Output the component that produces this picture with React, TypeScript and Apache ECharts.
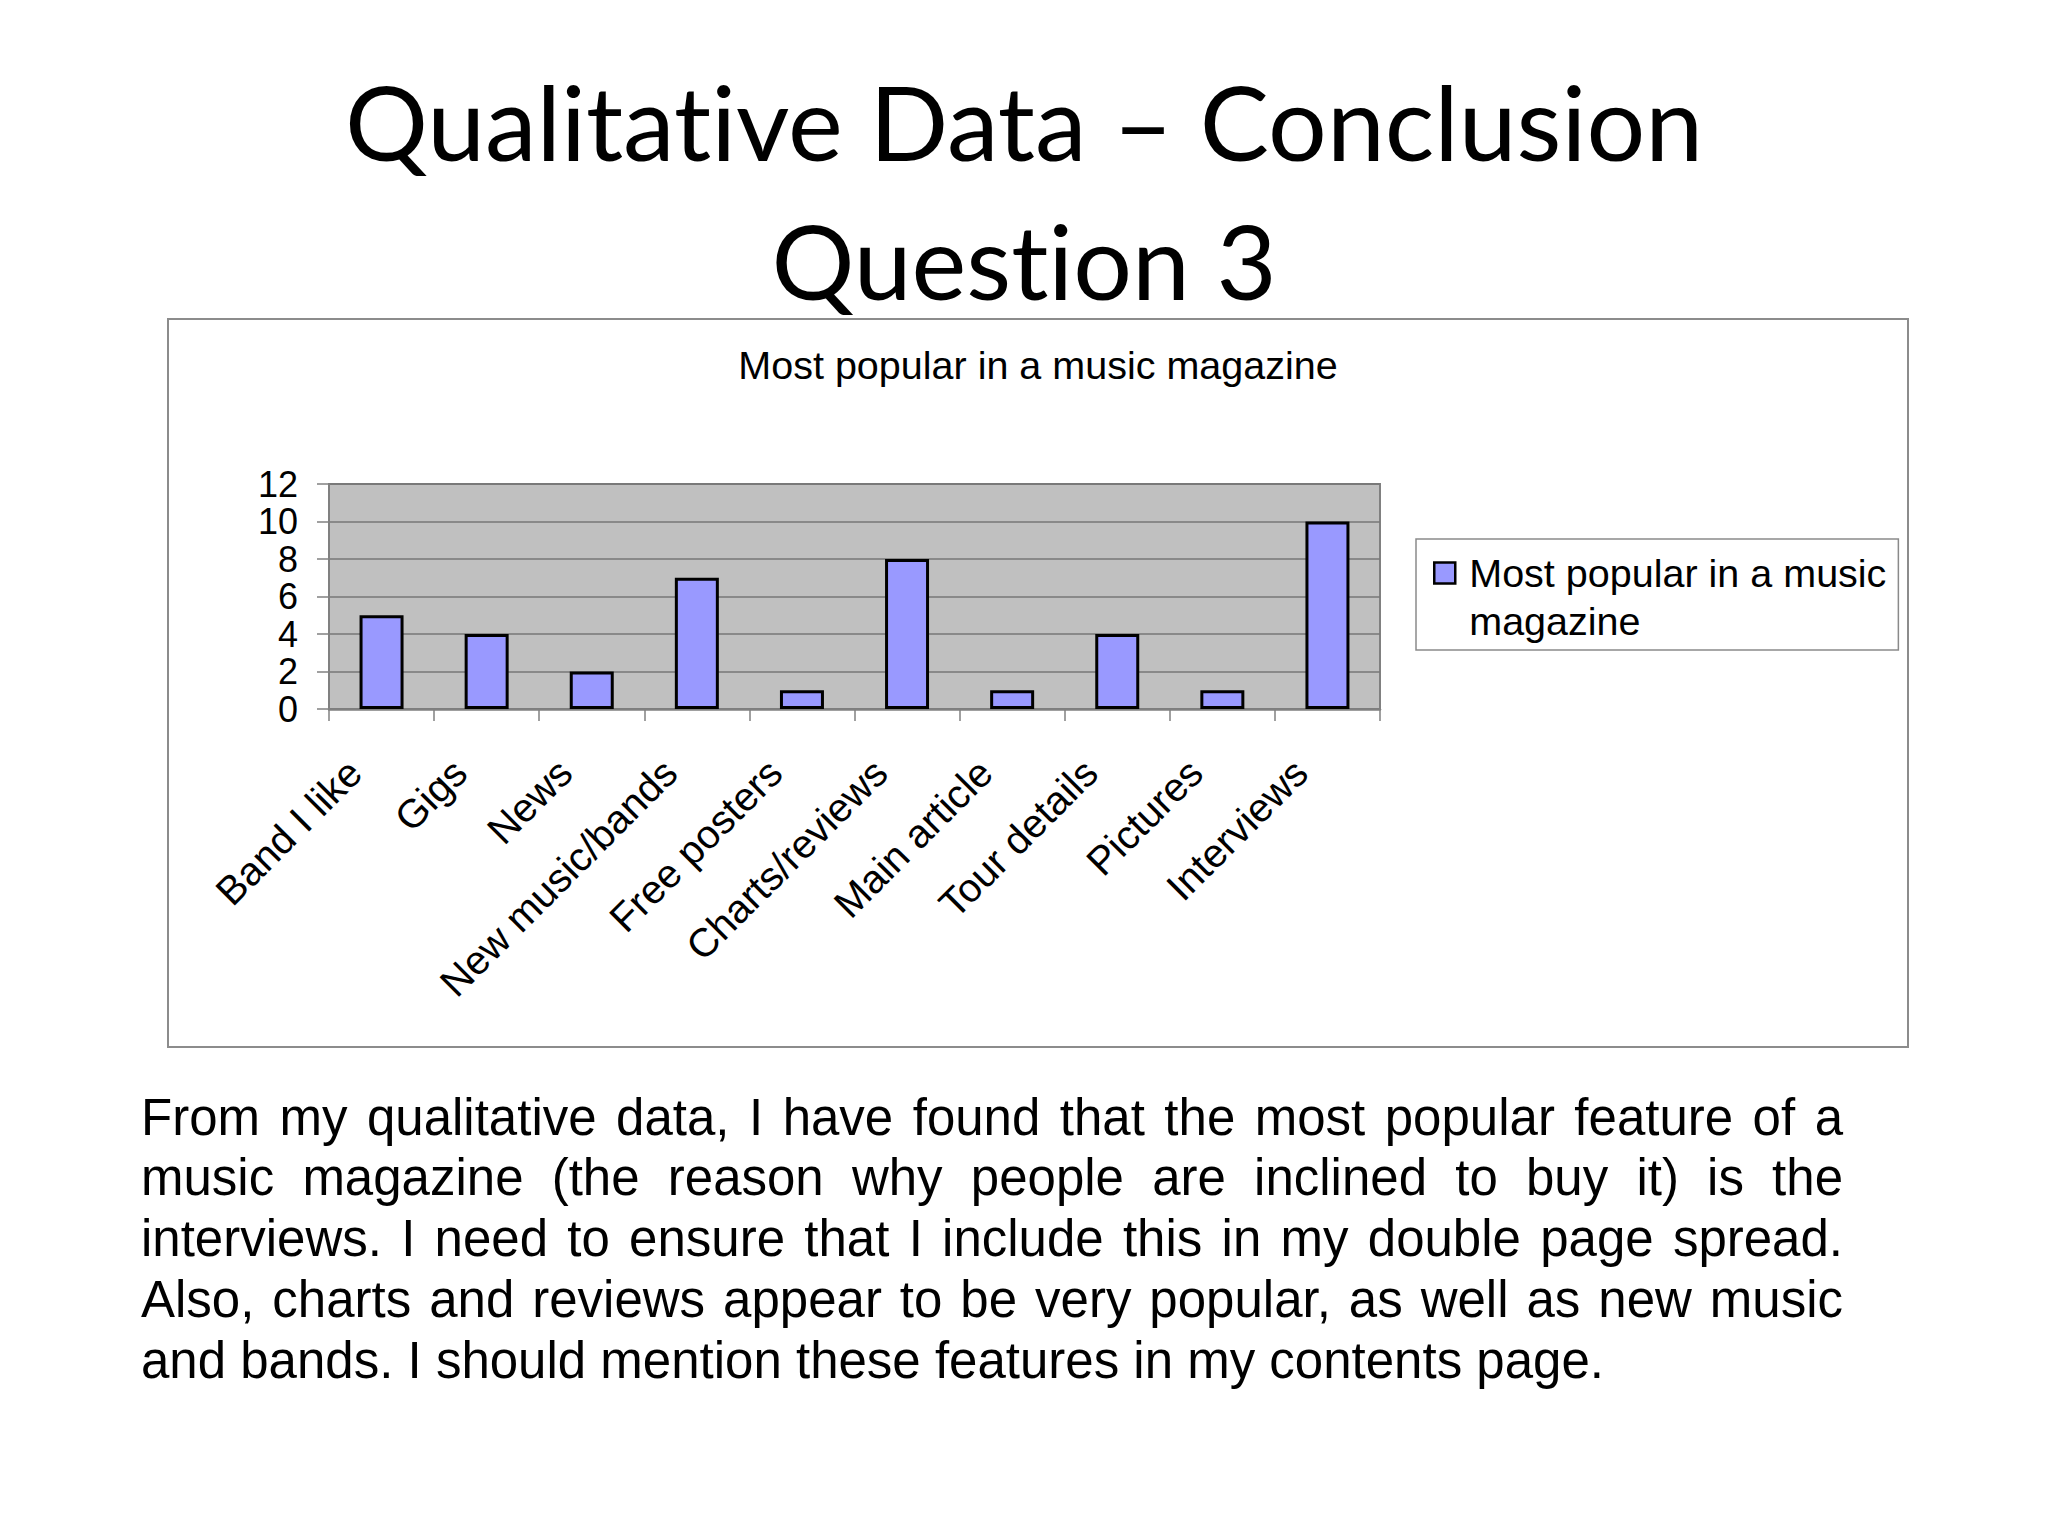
import React, { useEffect, useRef } from "react";
import * as echarts from "echarts";

const headlineLines = ["Qualitative Data – Conclusion", "Question 3"];
const chartTitle = "Most popular in a music magazine";
const seriesName = "Most popular in a music magazine";
const legendLabel = "Most popular in a music\nmagazine";
const categories = [
  "Band I like",
  "Gigs",
  "News",
  "New music/bands",
  "Free posters",
  "Charts/reviews",
  "Main article",
  "Tour details",
  "Pictures",
  "Interviews",
];
const values = [5, 4, 2, 7, 1, 8, 1, 4, 1, 10];
const yMin = 0;
const yMax = 12;
const yStep = 2;
const bodyLines = [
  "From my qualitative data, I have found that the most popular feature of a",
  "music magazine (the reason why people are inclined to buy it) is the",
  "interviews. I need to ensure that I include this in my double page spread.",
  "Also, charts and reviews appear to be very popular, as well as new music",
  "and bands. I should mention these features in my contents page.",
];

const SANS = '"Liberation Sans", Arial, sans-serif';
const HEAD = 'Lato, "Open Sans", sans-serif';

function measure(text: string, font: string): number {
  const c = document.createElement("canvas").getContext("2d")!;
  c.font = font;
  return c.measureText(text).width;
}

function buildBody(): any[] {
  const fs = 51;
  const font = `${fs}px ${SANS}`;
  const left = 141;
  const right = 1843;
  const width = right - left;
  const firstBaseline = 1135;
  const lineGap = 60.8;
  const out: any[] = [];
  bodyLines.forEach((line, i) => {
    const words = line.split(" ");
    const ws = words.map((w) => measure(w, font));
    const total = ws.reduce((a, b) => a + b, 0);
    const last = i === bodyLines.length - 1;
    const gap = last ? measure(" ", font) : (width - total) / (words.length - 1);
    let x = left;
    const y = firstBaseline + i * lineGap - 0.35 * fs;
    words.forEach((w, k) => {
      out.push({
        type: "text",
        x,
        y,
        style: {
          text: w,
          fill: "#000",
          fontSize: fs,
          fontFamily: SANS,
          align: "left",
          verticalAlign: "middle",
        },
      });
      x += ws[k] + gap;
    });
  });
  return out;
}

function buildHeadline(): any[] {
  const targetW = 1360;
  const w100 = measure(headlineLines[0], `100px ${HEAD}`);
  const fs = Math.min(106, (100 * targetW) / w100);
  const baselines = [158, 297];
  return headlineLines.map((t, i) => ({
    type: "text",
    x: 1024,
    y: baselines[i] - 0.36 * fs,
    style: {
      text: t,
      fill: "#000",
      fontSize: fs,
      fontFamily: HEAD,
      align: "center",
      verticalAlign: "middle",
    },
  }));
}

export default function App() {
  const ref = useRef<HTMLDivElement>(null);
  useEffect(() => {
    if (!ref.current) return;
    const chart = echarts.init(ref.current, undefined, { renderer: "svg" });
    const option: any = {
      animation: false,
      backgroundColor: "#ffffff",
      title: {
        text: chartTitle,
        left: 1038,
        top: 345,
        textAlign: "center",
        padding: 0,
        textStyle: {
          fontFamily: SANS,
          fontSize: 39.5,
          fontWeight: "normal",
          color: "#000",
        },
      },
      legend: {
        show: true,
        left: 1416,
        top: 539,
        orient: "vertical",
        padding: [10, 12, 5, 17],
        borderColor: "#8a8a8a",
        borderWidth: 1.5,
        backgroundColor: "#ffffff",
        itemWidth: 30,
        itemHeight: 69,
        icon: "path://M0,0H21V21H0Z M30,69",
        itemStyle: { color: "#9999ff", borderColor: "#000", borderWidth: 2.5 },
        formatter: () => legendLabel,
        textStyle: {
          fontFamily: SANS,
          fontSize: 39.5,
          lineHeight: 48,
          color: "#000",
        },
        data: [seriesName],
      },
      grid: {
        left: 329,
        top: 484,
        width: 1051,
        height: 225,
        show: true,
        backgroundColor: "#c0c0c0",
        borderColor: "#808080",
        borderWidth: 2,
        containLabel: false,
        outerBoundsMode: "none",
      },
      xAxis: {
        type: "category",
        data: categories,
        boundaryGap: true,
        axisLine: { show: true, lineStyle: { color: "#808080", width: 2.5 } },
        axisTick: {
          show: true,
          alignWithLabel: false,
          length: 12,
          lineStyle: { color: "#808080", width: 1.5 },
        },
        axisLabel: {
          show: true,
          interval: 0,
          rotate: 45,
          margin: 30,
          padding: [0, 38, 0, 0],
          fontFamily: SANS,
          fontSize: 40,
          color: "#000",
        },
        splitLine: { show: false },
      },
      yAxis: {
        type: "value",
        min: yMin,
        max: yMax,
        interval: yStep,
        axisLine: { show: true, lineStyle: { color: "#808080", width: 2 } },
        axisTick: {
          show: true,
          length: 12,
          lineStyle: { color: "#808080", width: 1.5 },
        },
        axisLabel: {
          margin: 31,
          fontFamily: SANS,
          fontSize: 36,
          lineHeight: 36,
          color: "#000",
          showMinLabel: true,
          showMaxLabel: true,
          hideOverlap: false,
        },
        splitLine: { show: true, lineStyle: { color: "#777777", width: 1.5 } },
      },
      series: [
        {
          type: "bar",
          name: seriesName,
          data: values,
          barWidth: 44,
          itemStyle: { color: "#9999ff", borderColor: "#000", borderWidth: 3 },
        },
      ],
      graphic: [
        {
          type: "rect",
          z: -1,
          shape: { x: 168, y: 319, width: 1740, height: 728 },
          style: { fill: "none", stroke: "#8c8c8c", lineWidth: 2 },
        },
        ...buildHeadline(),
        ...buildBody(),
      ],
    };
    chart.setOption(option);
    return () => chart.dispose();
  }, []);
  return (
    <div
      ref={ref}
      style={{
        position: "fixed",
        left: 0,
        top: 0,
        width: 2048,
        height: 1536,
        background: "#fff",
        fontVariantLigatures: "none",
        fontFeatureSettings: '"liga" 0, "clig" 0',
      }}
    />
  );
}
